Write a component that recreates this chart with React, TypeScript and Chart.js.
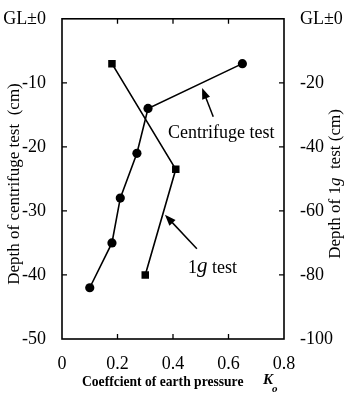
import React, { useEffect, useRef } from "react";
import { Chart, registerables } from "chart.js";

Chart.register(...registerables);

// Centrifuge test (left axis, depth in cm)
const centrifugeK = [0.65, 0.31, 0.27, 0.21, 0.18, 0.1];
const centrifugeDepth = [-7, -14, -21, -28, -35, -42];

// 1g test (right axis, depth in cm)
const oneGK = [0.18, 0.41, 0.3];
const oneGDepth = [-14, -47, -80];

const xTicks = [0, 0.2, 0.4, 0.6, 0.8];
const leftTicks = [0, -10, -20, -30, -40, -50];
const rightTicks = [0, -20, -40, -60, -80, -100];

const FONT = "'Liberation Serif', 'Times New Roman', serif";

const depthLabel = (v: number) => (v === 0 ? "GL\u00B10" : String(v));

function arrow(ctx: CanvasRenderingContext2D, x1: number, y1: number, x2: number, y2: number) {
  const ang = Math.atan2(y2 - y1, x2 - x1);
  const len = 11;
  const hw = 4.2;
  ctx.beginPath();
  ctx.moveTo(x1, y1);
  ctx.lineTo(x2 - Math.cos(ang) * len * 0.7, y2 - Math.sin(ang) * len * 0.7);
  ctx.stroke();
  ctx.beginPath();
  ctx.moveTo(x2, y2);
  ctx.lineTo(x2 - Math.cos(ang) * len - Math.sin(ang) * hw, y2 - Math.sin(ang) * len + Math.cos(ang) * hw);
  ctx.lineTo(x2 - Math.cos(ang) * len + Math.sin(ang) * hw, y2 - Math.sin(ang) * len - Math.cos(ang) * hw);
  ctx.closePath();
  ctx.fill();
}

const decorPlugin = {
  id: "decor",
  afterDraw(chart: any) {
    const ctx: CanvasRenderingContext2D = chart.ctx;
    const { left, right, top, bottom } = chart.chartArea;
    const xs = chart.scales.x;
    const ys = chart.scales.y;
    const y2s = chart.scales.y2;
    ctx.save();
    ctx.strokeStyle = "#000";
    ctx.fillStyle = "#000";
    ctx.lineWidth = 1.6;
    ctx.strokeRect(left, top, right - left, bottom - top);

    // inward ticks
    const tl = 5;
    ctx.lineWidth = 1.3;
    ctx.beginPath();
    xTicks.slice(1, -1).forEach((v) => {
      const px = xs.getPixelForValue(v);
      ctx.moveTo(px, bottom);
      ctx.lineTo(px, bottom - tl);
      ctx.moveTo(px, top);
      ctx.lineTo(px, top + tl);
    });
    leftTicks.slice(1, -1).forEach((v) => {
      const py = ys.getPixelForValue(v);
      ctx.moveTo(left, py);
      ctx.lineTo(left + tl, py);
    });
    rightTicks.slice(1, -1).forEach((v) => {
      const py = y2s.getPixelForValue(v);
      ctx.moveTo(right, py);
      ctx.lineTo(right - tl, py);
    });
    ctx.stroke();

    // axis titles
    ctx.textBaseline = "middle";
    const midY = 184;
    // left title
    ctx.save();
    ctx.translate(15, midY);
    ctx.rotate(-Math.PI / 2);
    ctx.font = `17px ${FONT}`;
    ctx.textAlign = "center";
    ctx.fillText("Depth of centrifuge test  (cm)", 0, 0);
    ctx.restore();

    // right title with italic g
    ctx.save();
    ctx.translate(336, midY);
    ctx.rotate(-Math.PI / 2);
    const parts: [string, string][] = [
      ["Depth of 1", `17px ${FONT}`],
      ["g", `italic 17px ${FONT}`],
      ["  test (cm)", `17px ${FONT}`],
    ];
    let total = 0;
    parts.forEach(([t, f]) => {
      ctx.font = f;
      total += ctx.measureText(t).width;
    });
    let cx = -total / 2;
    ctx.textAlign = "left";
    parts.forEach(([t, f]) => {
      ctx.font = f;
      ctx.fillText(t, cx, 0);
      cx += ctx.measureText(t).width;
    });
    ctx.restore();

    // bottom title
    ctx.textAlign = "left";
    ctx.font = `bold 13.6px ${FONT}`;
    const bt = "Coeffcient of earth pressure";
    ctx.fillText(bt, 82, 382);
    ctx.font = `italic bold 15px ${FONT}`;
    ctx.fillText("K", 263, 380);
    ctx.font = `italic bold 11px ${FONT}`;
    ctx.fillText("o", 272, 389);

    // annotations
    ctx.lineWidth = 1.5;
    ctx.font = `18px ${FONT}`;
    ctx.textAlign = "left";
    ctx.fillText("Centrifuge test", xs.getPixelForValue(0.382), ys.getPixelForValue(-17.8));
    arrow(
      ctx,
      xs.getPixelForValue(0.545),
      ys.getPixelForValue(-15.3),
      xs.getPixelForValue(0.505),
      ys.getPixelForValue(-10.8)
    );

    let ax = xs.getPixelForValue(0.454);
    const ay = ys.getPixelForValue(-38.9);
    ctx.font = `18px ${FONT}`;
    ctx.fillText("1", ax, ay);
    ax += ctx.measureText("1").width;
    ctx.font = `italic 21px ${FONT}`;
    ctx.fillText("g", ax, ay - 1);
    ax += ctx.measureText("g").width;
    ctx.font = `18px ${FONT}`;
    ctx.fillText(" test", ax, ay);
    arrow(
      ctx,
      xs.getPixelForValue(0.486),
      ys.getPixelForValue(-35.9),
      xs.getPixelForValue(0.371),
      ys.getPixelForValue(-30.6)
    );
    ctx.restore();
  },
};

export default function App() {
  const ref = useRef<HTMLCanvasElement | null>(null);
  useEffect(() => {
    if (!ref.current) return;
    const chart = new Chart(ref.current, {
      type: "scatter",
      data: {
        datasets: [
          {
            label: "Centrifuge test",
            data: centrifugeK.map((k, i) => ({ x: k, y: centrifugeDepth[i] })),
            yAxisID: "y",
            showLine: true,
            borderColor: "#000",
            backgroundColor: "#000",
            borderWidth: 1.6,
            pointStyle: "circle",
            pointRadius: 4.6,
            pointBorderWidth: 0,
          },
          {
            label: "1g test",
            data: oneGK.map((k, i) => ({ x: k, y: oneGDepth[i] })),
            yAxisID: "y2",
            showLine: true,
            borderColor: "#000",
            backgroundColor: "#000",
            borderWidth: 1.6,
            pointStyle: "rect",
            pointRadius: 5.3,
            pointBorderWidth: 0,
          },
        ],
      },
      options: {
        responsive: false,
        animation: false,
        devicePixelRatio: 1,
        layout: { padding: { top: 16, left: 0, right: 0, bottom: 0 } },
        plugins: {
          legend: { display: false },
          tooltip: { enabled: false },
        },
        scales: {
          x: {
            type: "linear",
            position: "bottom",
            min: 0,
            max: 0.8,
            afterFit: (s: any) => {
              s.height = 55;
            },
            afterBuildTicks: (s: any) => {
              s.ticks = xTicks.map((v) => ({ value: v }));
            },
            grid: { display: false },
            border: { display: false },
            ticks: {
              color: "#000",
              padding: 6,
              font: { family: FONT, size: 18 },
              callback: (v: any) => (Number(v) === 0 ? "0" : Number(v).toFixed(1)),
            },
          },
          y: {
            type: "linear",
            position: "left",
            min: -50,
            max: 0,
            afterFit: (s: any) => {
              s.width = 62;
            },
            afterBuildTicks: (s: any) => {
              s.ticks = leftTicks.map((v) => ({ value: v }));
            },
            grid: { display: false },
            border: { display: false },
            ticks: {
              color: "#000",
              padding: 8,
              font: { family: FONT, size: 18 },
              callback: (v: any) => depthLabel(Number(v)),
            },
          },
          y2: {
            type: "linear",
            position: "right",
            min: -100,
            max: 0,
            afterFit: (s: any) => {
              s.width = 61;
            },
            afterBuildTicks: (s: any) => {
              s.ticks = rightTicks.map((v) => ({ value: v }));
            },
            grid: { display: false },
            border: { display: false },
            ticks: {
              color: "#000",
              padding: 8,
              font: { family: FONT, size: 18 },
              callback: (v: any) => depthLabel(Number(v)),
            },
          },
        },
      },
      plugins: [decorPlugin],
    });
    return () => chart.destroy();
  }, []);
  return (
    <div style={{ position: "absolute", left: 0, top: 0, width: 345, height: 394, background: "#fff" }}>
      <canvas ref={ref} width={345} height={394} style={{ width: 345, height: 394, display: "block" }} />
    </div>
  );
}
